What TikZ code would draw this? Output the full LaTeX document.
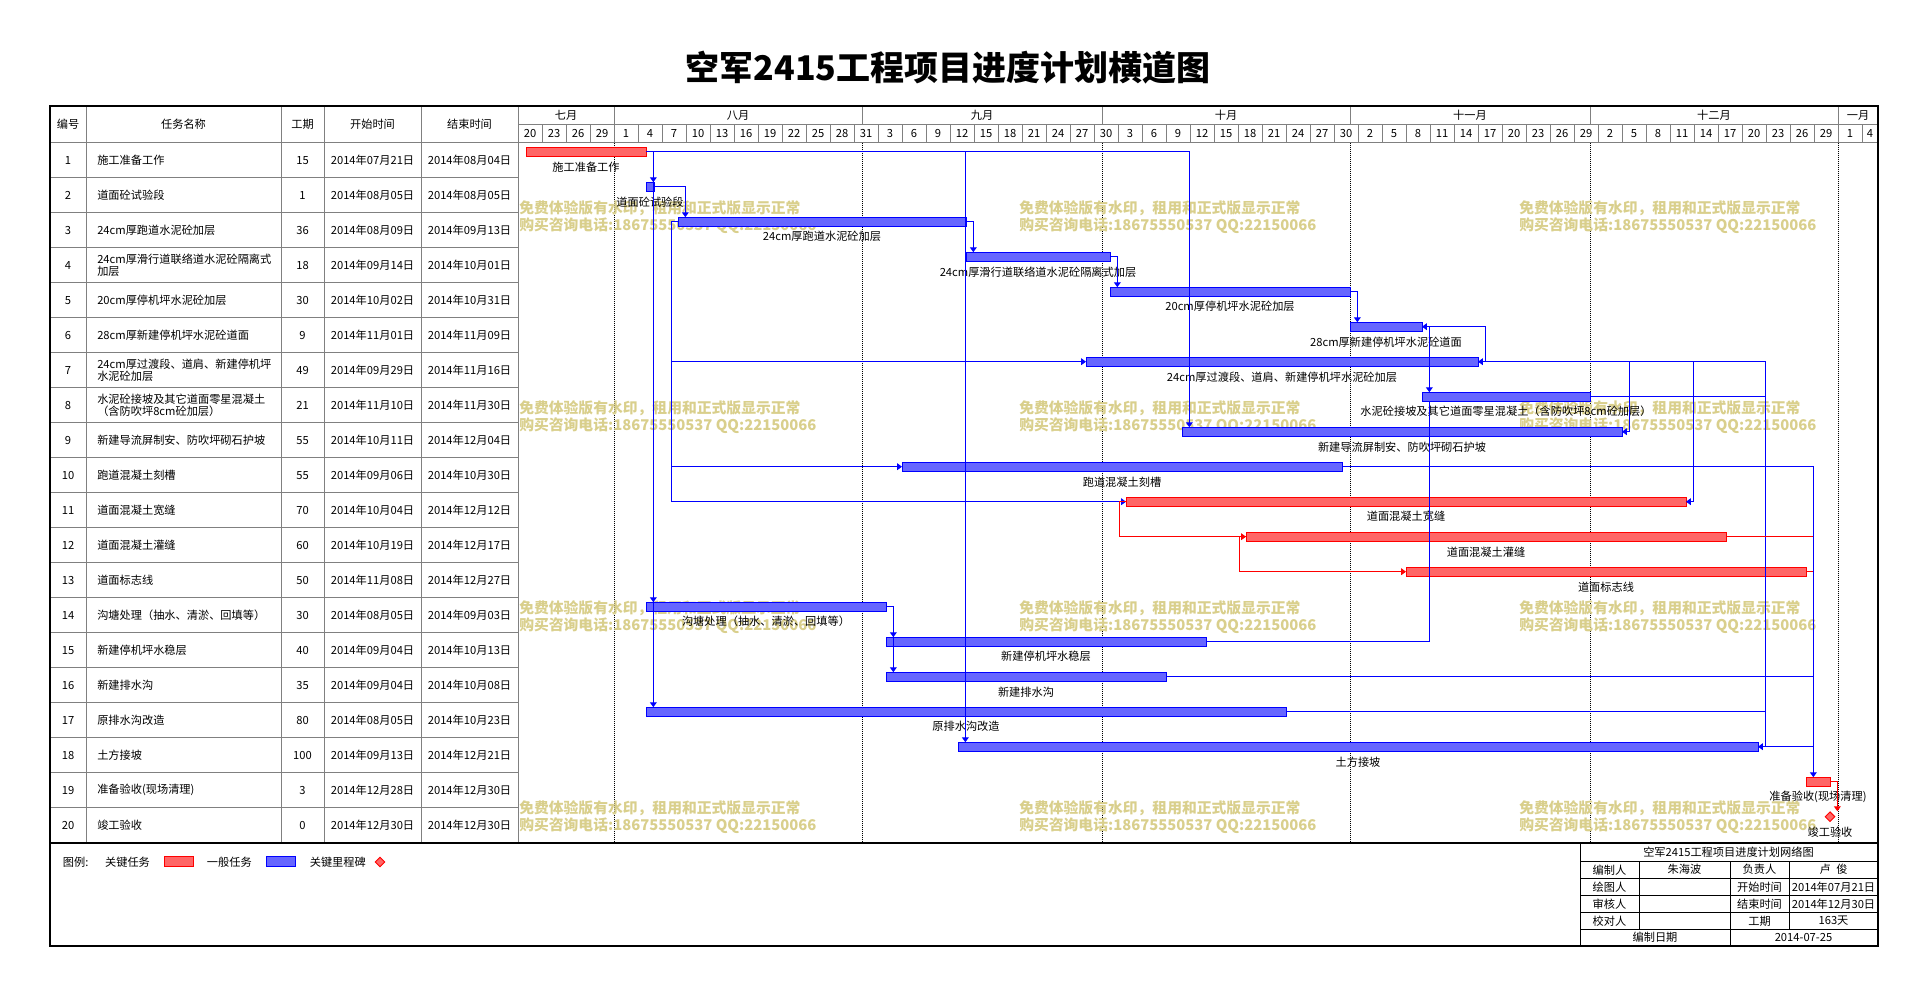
\documentclass[tikz,border=0pt]{standalone}
\usepackage{fontspec}
\setmainfont{Noto Sans CJK SC}
\usetikzlibrary{positioning,arrows.meta,shapes.geometric}
\definecolor{gridgray}{RGB}{128,128,128}
\definecolor{wmark}{RGB}{217,207,140}
\tikzset{
	cell/.style={inner sep=0, font=\fontsize{8.4}{8.8}\selectfont},
	tlab/.style={inner sep=0, font=\fontsize{8.4}{9}\selectfont},
	gbar/.style={draw=#1, fill=#1!60, line width=0.7pt, inner sep=0, outer sep=0, minimum height=6.75pt},
	ms/.style={diamond, draw=red, fill=red!60, line width=0.7pt, inner sep=0, minimum width=7.5pt, minimum height=7.5pt},
	lnk/.style={blue, line width=0.8pt, ->},
	lnkp/.style={blue, line width=0.8pt},
	wm/.style={anchor=west, inner sep=0, text=wmark, font=\bfseries\fontsize{11.1}{12}\selectfont},
	gl/.style={gridgray, line width=0.75pt},
	dotline/.style={black, line width=0.75pt, dash pattern=on 0.75pt off 0.75pt}
}
\begin{document}
\begin{tikzpicture}[x=0.75pt, y=-0.75pt, >={Triangle[length=3.6pt,width=5pt]}, font=\fontsize{8.4}{8.8}\selectfont]
	\useasboundingbox (0,0) rectangle (1928,996);
	\node[font=\bfseries\fontsize{25.5}{30}\selectfont] (title) at (948,67.6) {空军2415工程项目进度计划横道图};
	% table grid
	\foreach \x in {86,281,324,421,518} \draw[gl] (\x,106) -- (\x,842.7);
	\draw[gl] (50,142.7) -- (1878,142.7);
	\foreach \k in {1,...,19} \draw[gl] (50,{142.7+35*\k}) -- (518,{142.7+35*\k});
	\draw[gl] (518,124.3) -- (1878,124.3);
	\foreach \i in {1,...,56} \draw[gl] ({518+24*\i},124.3) -- ({518+24*\i},142.7);
	\foreach \x in {614,862,1102,1350,1590,1838}{
		\draw[gl] (\x,106) -- (\x,124.3);
		\draw[dotline] (\x,142.7) -- (\x,842.7);
	}
	\node[cell] (h1) at (68,124.3) {编号};
	\node[cell] (h2) at (183.5,124.3) {任务名称};
	\node[cell] (h3) at (302.5,124.3) {工期};
	\node[cell] (h4) at (372.5,124.3) {开始时间};
	\node[cell] (h5) at (469.5,124.3) {结束时间};
	\foreach \m/\x [count=\i] in {七月/566,八月/738,九月/982,十月/1226,十一月/1470,十二月/1714,一月/1858}
		\node[cell] (mo\i) at (\x,115.2) {\m};
	\foreach \d [count=\i from 0] in {20,23,26,29,1,4,7,10,13,16,19,22,25,28,31,3,6,9,12,15,18,21,24,27,30,3,6,9,12,15,18,21,24,27,30,2,5,8,11,14,17,20,23,26,29,2,5,8,11,14,17,20,23,26,29,1,4}
		\node[cell] (dy\i) at ({min(530+24*\i,1870)},133.5) {\d};
	% watermark
	\foreach \wx in {519,1019,1519}
		\foreach \wy in {208,408,608,808}{
			\node[wm] (wa\wx-\wy) at (\wx,\wy) {免费体验版有水印，租用和正式版显示正常};
			\node[wm] (wb\wx-\wy) at (\wx,\wy+18) {购买咨询电话:18675550537 QQ:22150066};
		}
	% bars
	\foreach \r/\s/\e/\col/\lab in {
		1/1/16/red/施工准备工作,
		2/16/17/blue/道面砼试验段,
		3/20/56/blue/24cm厚跑道水泥砼加层,
		4/56/74/blue/24cm厚滑行道联络道水泥砼隔离式加层,
		5/74/104/blue/20cm厚停机坪水泥砼加层,
		6/104/113/blue/28cm厚新建停机坪水泥砼道面,
		7/71/120/blue/24cm厚过渡段、道肩、新建停机坪水泥砼加层,
		8/113/134/blue/水泥砼接坡及其它道面零星混凝土（含防吹坪8cm砼加层）,
		9/83/138/blue/新建导流屏制安、防吹坪砌石护坡,
		10/48/103/blue/跑道混凝土刻槽,
		11/76/146/red/道面混凝土宽缝,
		12/91/151/red/道面混凝土灌缝,
		13/111/161/red/道面标志线,
		14/16/46/blue/沟塘处理（抽水、清淤、回填等）,
		15/46/86/blue/新建停机坪水稳层,
		16/46/81/blue/新建排水沟,
		17/16/96/blue/原排水沟改造,
		18/55/155/blue/土方接坡,
		19/161/164/red/准备验收(现场清理)}{
		\node[gbar=\col, minimum width={(\e-\s)*6pt}] (b\r) at ({518+4*(\s+\e)},{151.7+35*(\r-1)}) {};
		\node[tlab] (l\r) at ([yshift=-7.9pt]b\r.south) {\lab};
	}
	\node[ms] (m20) at (1830,816.7) {};
	\node[tlab] (l20) at (1830,831.7) {竣工验收};
	% links
	\draw[lnk] (b1.east) -| ([xshift=5.5pt]b2.north west);
	\draw[lnk] (b1.east) -| ([xshift=5.5pt]b14.north west);
	\draw[lnk] (b1.east) -| ([xshift=5.5pt]b17.north west);
	\draw[lnk] (b1.east) -| ([xshift=5.5pt]b18.north west);
	\draw[lnk] (b1.east) -| ([xshift=5.5pt]b9.north west);
	\draw[lnk] (b2.east) -| ([xshift=5.5pt]b3.north west);
	\draw[lnk] (b3.east) -| ([xshift=5.5pt]b4.north west);
	\draw[lnk] (b4.east) -| ([xshift=5.5pt]b5.north west);
	\draw[lnk] (b5.east) -| ([xshift=5.5pt]b6.north west);
	\draw[lnk] (b6.east) -| ([xshift=5.5pt]b8.north west);
	\draw[lnkp] (b15.east) -| ([xshift=5.5pt]b8.south west);
	\draw[lnk] (b14.east) -| ([xshift=5.5pt]b15.north west);
	\draw[lnk] (b14.east) -| ([xshift=5.5pt]b16.north west);
	\coordinate (s3) at ([xshift=-4.7pt]b3.west);
	\draw[lnk] (b3.west) -- (s3) |- (b7.west);
	\draw[lnk] (b3.west) -- (s3) |- (b10.west);
	\draw[lnk] (b3.west) -- (s3) |- (b11.west);
	\draw[lnk, red] (b11.west) -- ([xshift=-5pt]b11.west) |- (b12.west);
	\draw[lnk, red] (b12.west) -- ([xshift=-5pt]b12.west) |- (b13.west);
	\coordinate (f7) at ([xshift=5.5pt]b7.east);
	\coordinate (f18) at ([xshift=5.5pt]b18.east);
	\draw[lnk] (f7) |- (b6.east);
	\draw[lnk] (f7) -- (b7.east);
	\draw[lnk] (f7) -| ([xshift=5.5pt]b9.east) -- (b9.east);
	\draw[lnk] (f7) -| ([xshift=5.5pt]b11.east) -- (b11.east);
	\draw[lnk] (f7) -| (f18) -- (b18.east);
	\draw[lnkp] (b8.east) -- (b8.east -| f18);
	\draw[lnkp] (b17.east) -- (b17.east -| f18);
	\coordinate (t19) at ([xshift=5.5pt]b19.north west);
	\draw[lnk] (b10.east) -| (t19);
	\draw[lnkp] (b16.east) -- (b16.east -| t19);
	\draw[lnkp] (b18.east) -- (b18.east -| t19);
	\draw[lnkp, red] (b12.east) -- (b12.east -| t19);
	\draw[lnkp, red] (b13.east) -- (b13.east -| t19);
	\draw[lnk, red] (b19.east) -| ([xshift=5.5pt]m20.north);
	% table text
	\foreach \n/\nm/\du/\sd/\ed in {
		1/施工准备工作/15/07月21日/08月04日,
		2/道面砼试验段/1/08月05日/08月05日,
		3/24cm厚跑道水泥砼加层/36/08月09日/09月13日,
		4/24cm厚滑行道联络道水泥砼隔离式\\加层/18/09月14日/10月01日,
		5/20cm厚停机坪水泥砼加层/30/10月02日/10月31日,
		6/28cm厚新建停机坪水泥砼道面/9/11月01日/11月09日,
		7/24cm厚过渡段、道肩、新建停机坪\\水泥砼加层/49/09月29日/11月16日,
		8/水泥砼接坡及其它道面零星混凝土\\（含防吹坪8cm砼加层）/21/11月10日/11月30日,
		9/新建导流屏制安、防吹坪砌石护坡/55/10月11日/12月04日,
		10/跑道混凝土刻槽/55/09月06日/10月30日,
		11/道面混凝土宽缝/70/10月04日/12月12日,
		12/道面混凝土灌缝/60/10月19日/12月17日,
		13/道面标志线/50/11月08日/12月27日,
		14/沟塘处理（抽水、清淤、回填等）/30/08月05日/09月03日,
		15/新建停机坪水稳层/40/09月04日/10月13日,
		16/新建排水沟/35/09月04日/10月08日,
		17/原排水沟改造/80/08月05日/10月23日,
		18/土方接坡/100/09月13日/12月21日,
		19/准备验收(现场清理)/3/12月28日/12月30日,
		20/竣工验收/0/12月30日/12月30日}{
		\node[cell] (no\n) at (68,{160.2+35*(\n-1)}) {\n};
		\node[cell, anchor=west, align=left] (nm\n) at (97,{160.2+35*(\n-1)}) {\nm};
		\node[cell] (du\n) at (302.5,{160.2+35*(\n-1)}) {\du};
		\node[cell] (sd\n) at (372.5,{160.2+35*(\n-1)}) {2014年\sd};
		\node[cell] (ed\n) at (469.5,{160.2+35*(\n-1)}) {2014年\ed};
	}
	% legend
	\node[cell, anchor=west] (lg) at (62.7,862) {图例:};
	\node[cell] (lg1) at (127.5,862) {关键任务};
	\node[gbar=red, minimum width=22.3pt, minimum height=7.5pt] (lgr) at (178.9,861.7) {};
	\node[cell] (lg2) at (229.3,862) {一般任务};
	\node[gbar=blue, minimum width=22.3pt, minimum height=7.5pt] (lgb) at (280.9,861.7) {};
	\node[cell] (lg3) at (337.8,862) {关键里程碑};
	\node[ms] (lgm) at (380,862) {};
	% title block
	\draw[line width=0.75pt] (1580,842.7) -- (1580,946);
	\foreach \k in {0,...,4} \draw[line width=0.75pt] (1580,{861+17.1*\k}) -- (1878,{861+17.1*\k});
	\draw[line width=0.75pt] (1639,861) -- (1639,929.4);
	\draw[line width=0.75pt] (1789,861) -- (1789,929.4);
	\draw[line width=0.75pt] (1730,861) -- (1730,946);
	\node[cell] (tb0) at (1728.5,852.5) {空军2415工程项目进度计划网络图};
	\foreach \a/\b/\c/\d [count=\k from 0] in {编制人/朱海波/负责人/卢\enspace 俊, 绘图人//开始时间/2014年07月21日, 审核人//结束时间/2014年12月30日, 校对人//工期/163天}{
		\node[cell] (ta\k) at (1609.5,{869.7+17.1*\k}) {\a};
		\node[cell] (tb\k) at (1684.5,{869.7+17.1*\k}) {\b};
		\node[cell] (tc\k) at (1759.5,{869.7+17.1*\k}) {\c};
		\node[cell] (td\k) at (1833.5,{869.7+17.1*\k}) {\d};
	}
	\node[cell] (te) at (1655,937.7) {编制日期};
	\node[cell] (tf) at (1803.5,937.7) {2014-07-25};
	% frame
	\draw[line width=1.2pt] (50,842.7) -- (1878,842.7);
	\draw[line width=1.9pt] (50,106) rectangle (1878,946);
\end{tikzpicture}
\end{document}
